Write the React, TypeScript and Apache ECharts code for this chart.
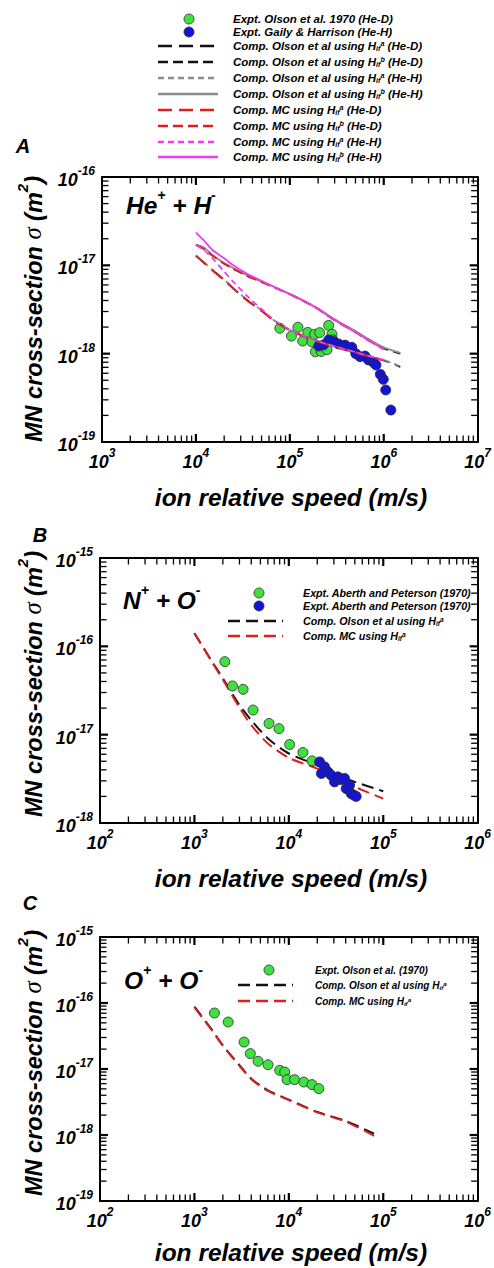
import React, { useEffect, useRef } from "react";
import * as echarts from "echarts";

const FONT = "'Liberation Sans', Arial, Helvetica, sans-serif";
const GREEN = "#3fe03f";
const BLUE = "#1414d6";
const RED = "#dd1f1f";
const BLACK = "#111111";
const GRAY = "#8c8c8c";
const MAGENTA = "#ee3cee";

// ---------- Panel A: He+ + H- ----------
const aSpeedOlson = [1e4, 1.25e4, 1.5e4, 2e4, 2.5e4, 3.5e4, 5e4, 7e4, 1e5, 1.5e5, 2e5, 3e5, 5e5, 7e5, 1e6, 1.5e6];
const aSpeedMC = [1e4, 1.25e4, 1.5e4, 2e4, 2.5e4, 3.5e4, 5e4, 7e4, 1e5, 1.5e5, 2e5, 3e5, 5e5, 7e5, 1e6];
const aOlsonA_HeD = [1.29e-17, 1.05e-17, 8.85e-18, 6.83e-18, 5.49e-18, 4.05e-18, 3.06e-18, 2.3e-18, 1.85e-18, 1.53e-18, 1.37e-18, 1.2e-18, 1.03e-18, 9.3e-19, 8.4e-19, 7.1e-19];
const aOlsonB_HeD = [1.7e-17, 1.55e-17, 1.3e-17, 1.05e-17, 9.2e-18, 7.6e-18, 6.5e-18, 5.6e-18, 4.7e-18, 3.8e-18, 3.2e-18, 2.4e-18, 1.75e-18, 1.4e-18, 1.15e-18, 1.0e-18];
const aOlsonA_HeH = [1.3e-17, 1.06e-17, 8.9e-18, 6.9e-18, 5.5e-18, 4.1e-18, 3.1e-18, 2.32e-18, 1.87e-18, 1.55e-18, 1.38e-18, 1.21e-18, 1.04e-18, 9.4e-19, 8.5e-19, 7.2e-19];
const aOlsonB_HeH = [1.72e-17, 1.56e-17, 1.31e-17, 1.06e-17, 9.3e-18, 7.7e-18, 6.55e-18, 5.65e-18, 4.75e-18, 3.85e-18, 3.25e-18, 2.45e-18, 1.8e-18, 1.45e-18, 1.18e-18, 1.02e-18];
const aMCA_HeD = [1.28e-17, 1.04e-17, 8.7e-18, 6.8e-18, 5.45e-18, 4.0e-18, 3.05e-18, 2.3e-18, 1.85e-18, 1.52e-18, 1.36e-18, 1.19e-18, 1.02e-18, 9.2e-19, 8.4e-19];
const aMCB_HeD = [1.7e-17, 1.5e-17, 1.28e-17, 1.04e-17, 9.1e-18, 7.6e-18, 6.5e-18, 5.55e-18, 4.7e-18, 3.8e-18, 3.2e-18, 2.4e-18, 1.75e-18, 1.4e-18, 1.12e-18];
const aMCA_HeH = [1.7e-17, 1.45e-17, 1.2e-17, 8.5e-18, 6.5e-18, 4.5e-18, 3.2e-18, 2.35e-18, 1.87e-18, 1.54e-18, 1.38e-18, 1.21e-18, 1.04e-18, 9.4e-19, 8.5e-19];
const aMCB_HeH = [2.34e-17, 1.85e-17, 1.49e-17, 1.2e-17, 1.0e-17, 8.0e-18, 6.7e-18, 5.6e-18, 4.7e-18, 3.8e-18, 3.2e-18, 2.4e-18, 1.75e-18, 1.4e-18, 1.12e-18];
const aOlsonExpSpeed = [7.83e4, 1.04e5, 1.22e5, 1.37e5, 1.55e5, 1.72e5, 1.84e5, 1.87e5, 2.08e5, 2.16e5, 2.49e5, 2.59e5, 2.81e5, 2.88e5];
const aOlsonExpSigma = [1.94e-18, 1.58e-18, 1.99e-18, 1.39e-18, 1.74e-18, 1.36e-18, 1.66e-18, 1.05e-18, 1.73e-18, 1.06e-18, 1.11e-18, 2.09e-18, 1.66e-18, 1.43e-18];
const aGailySpeed = [2.03e5, 2.29e5, 2.59e5, 2.92e5, 3.3e5, 3.88e5, 4.57e5, 5.04e5, 5.6e5, 6.32e5, 6.86e5, 7.75e5, 8.27e5, 9.19e5, 9.89e5, 1.05e6, 1.19e6];
const aGailySigma = [1.22e-18, 1.26e-18, 1.43e-18, 1.37e-18, 1.29e-18, 1.25e-18, 1.18e-18, 1.0e-18, 9.25e-19, 9.4e-19, 8.5e-19, 7.98e-19, 7.44e-19, 5.84e-19, 5.12e-19, 3.88e-19, 2.3e-19];

// ---------- Panel B: N+ + O- ----------
const bSpeed = [1e3, 1.5e3, 2e3, 3e3, 4e3, 6e3, 1e4, 2e4, 3e4, 5e4, 1e5];
const bOlson = [1.41e-16, 7.0e-17, 4.35e-17, 2.16e-17, 1.46e-17, 9.06e-18, 6.12e-18, 4.51e-18, 3.63e-18, 2.92e-18, 2.29e-18];
const bMC = [1.41e-16, 6.9e-17, 4.2e-17, 2.02e-17, 1.28e-17, 7.95e-18, 5.46e-18, 4.13e-18, 3.33e-18, 2.56e-18, 1.89e-18];
const bExpGreenSpeed = [2.1e3, 2.53e3, 3.28e3, 4.18e3, 6.17e3, 7.87e3, 1.02e4, 1.41e4, 1.76e4];
const bExpGreenSigma = [6.71e-17, 3.56e-17, 3.26e-17, 1.9e-17, 1.34e-17, 1.17e-17, 7.74e-18, 6.28e-18, 5.05e-18];
const bExpBlueSpeed = [2.12e4, 2.21e4, 2.39e4, 2.6e4, 2.81e4, 3.05e4, 3.31e4, 3.59e4, 3.89e4, 4.05e4, 4.4e4, 4.58e4, 4.89e4, 5.17e4];
const bExpBlueSigma = [4.92e-18, 3.63e-18, 4.32e-18, 3.79e-18, 3.47e-18, 2.92e-18, 3.33e-18, 3.1e-18, 3.2e-18, 2.45e-18, 2.67e-18, 2.15e-18, 2.06e-18, 2.0e-18];

// ---------- Panel C: O+ + O- ----------
const cSpeed = [1e3, 1.5e3, 2e3, 3e3, 4e3, 6e3, 1e4, 2e4, 4e4, 8e4];
const cOlson = [8.8e-17, 4.08e-17, 2.28e-17, 1.14e-17, 7.14e-18, 4.75e-18, 3.43e-18, 2.23e-18, 1.63e-18, 1.05e-18];
const cMC = [8.6e-17, 4.0e-17, 2.25e-17, 1.12e-17, 7.0e-18, 4.65e-18, 3.38e-18, 2.2e-18, 1.6e-18, 9.7e-19];
const cExpSpeed = [1.63e3, 2.28e3, 3.36e3, 3.91e3, 4.72e3, 6.03e3, 8.0e3, 9.04e3, 9.57e3, 1.15e4, 1.44e4, 1.76e4, 2.08e4];
const cExpSigma = [7.05e-17, 5.15e-17, 2.56e-17, 1.71e-17, 1.31e-17, 1.16e-17, 9.55e-18, 9.0e-18, 6.9e-18, 6.9e-18, 6.35e-18, 5.8e-18, 5.04e-18];

// axis decades (exponents)
const aX = [3, 7], aY = [-19, -16];
const bX = [2, 6], bY = [-18, -15];
const cX = [2, 6], cY = [-19, -15];

const p10 = (e: number) => Number(`1e${e}`);
const pairs = (xs: number[], ys: number[]) => xs.map((x, i) => [x, ys[i]]);

const txt = (size: number, extra: any = {}) => ({
  fontFamily: FONT,
  fontWeight: "bold",
  fontStyle: "italic",
  fontSize: size,
  fill: "#000",
  ...extra,
});

function supRich(base: number, sup: number, lh: number) {
  return {
    sup: { fontFamily: FONT, fontWeight: "bold", fontStyle: "italic", fontSize: sup, lineHeight: Math.round(sup * 1.1), verticalAlign: "top", fill: "#000", color: "#000" },
    sub: { fontFamily: FONT, fontWeight: "bold", fontStyle: "italic", fontSize: sup, lineHeight: Math.round(sup * 1.1), verticalAlign: "bottom", fill: "#000", color: "#000" },
    base: { fontFamily: FONT, fontWeight: "bold", fontStyle: "italic", fontSize: base, lineHeight: lh, verticalAlign: "bottom", fill: "#000", color: "#000" },
    sig: { fontFamily: "'Liberation Serif', 'DejaVu Serif', serif", fontWeight: "normal", fontStyle: "italic", fontSize: base * 1.05, lineHeight: lh, verticalAlign: "bottom", fill: "#000", color: "#000" },
  };
}

const tickRich = {
  b: { fontFamily: FONT, fontWeight: "bold", fontStyle: "italic", fontSize: 18, lineHeight: 24, verticalAlign: "bottom", color: "#000" },
  s: { fontFamily: FONT, fontWeight: "bold", fontStyle: "italic", fontSize: 12, lineHeight: 13, verticalAlign: "top", color: "#000" },
};
const tickFmt = (v: number) => `{b|10}{s|${Math.round(Math.log10(v))}}`;

function axis(kind: "x" | "y", grid: number, ext: number[], pos: string, labels: boolean) {
  return {
    type: "log",
    gridIndex: grid,
    min: p10(ext[0]),
    max: p10(ext[1]),
    position: pos,
    axisLine: { show: true, lineStyle: { color: "#000", width: 2 } },
    axisTick: { show: false },
    axisLabel: labels
      ? { show: true, margin: kind === "x" ? 5 : 7, formatter: tickFmt, rich: tickRich, showMinLabel: true, showMaxLabel: true }
      : { show: false },
    splitLine: { show: false },
    minorSplitLine: { show: false },
  };
}

// tick values of a log axis
function majorVals(ext: number[]) {
  const out: number[] = [];
  for (let e = ext[0] + 1; e < ext[1]; e++) out.push(p10(e));
  return out;
}
function minorVals(ext: number[]) {
  const out: number[] = [];
  for (let e = ext[0]; e < ext[1]; e++) for (let k = 2; k <= 9; k++) out.push(k * p10(e));
  return out;
}

// inward tick marks positioned through the chart's own scales (convertToPixel)
function tickElements(chart: any, idx: number, xe: number[], ye: number[]) {
  const finder = { xAxisIndex: idx * 2, yAxisIndex: idx * 2 };
  const px = (x: number, y: number) => chart.convertToPixel(finder, [x, y]) as number[];
  const lo = px(p10(xe[0]), p10(ye[0]));
  const hi = px(p10(xe[1]), p10(ye[1]));
  const left = lo[0], bottom = lo[1], right = hi[0], top = hi[1];
  const els: any[] = [];
  const add = (x1: number, y1: number, x2: number, y2: number, w: number) =>
    els.push({ type: "line", silent: true, z: 50, shape: { x1, y1, x2, y2 }, style: { stroke: "#000", lineWidth: w } });
  [[majorVals(xe), 8, 2.2], [minorVals(xe), 6.5, 1.3]].forEach(([vals, L, W]: any) => {
    vals.forEach((v: number) => {
      const x = px(v, p10(ye[0]))[0];
      add(x, bottom, x, bottom - L, W);
      add(x, top, x, top + L, W);
    });
  });
  [[majorVals(ye), 8, 2.2], [minorVals(ye), 6.5, 1.3]].forEach(([vals, L, W]: any) => {
    vals.forEach((v: number) => {
      const y = px(p10(xe[0]), v)[1];
      add(left, y, left + L, y, W);
      add(right, y, right - L, y, W);
    });
  });
  return els;
}

function lineS(name: string, xs: number[], ys: number[], color: string, dash: any, idx: number, width = 1.8, z = 3) {
  return {
    name,
    type: "line",
    xAxisIndex: idx * 2,
    yAxisIndex: idx * 2,
    data: pairs(xs, ys),
    showSymbol: false,
    symbol: "none",
    smooth: 0.25,
    z,
    lineStyle: { color, width, type: dash },
  };
}

function dotS(name: string, xs: number[], ys: number[], color: string, idx: number, z = 2) {
  return {
    name,
    type: "scatter",
    xAxisIndex: idx * 2,
    yAxisIndex: idx * 2,
    data: pairs(xs, ys),
    symbol: "circle",
    symbolSize: 10,
    z,
    itemStyle: { color, borderColor: "#2a2a2a", borderWidth: 0.8, opacity: 1 },
  };
}

const D3 = [14, 7];
const D4 = [10, 5];
const D6 = [6, 4];

function legendRow(y: number, x0: number, x1: number, xm: number, xt: number, size: number, text: string, mark: any) {
  const els: any[] = [];
  if (mark.circle) {
    els.push({ type: "circle", shape: { cx: xm, cy: y, r: 5 }, style: { fill: mark.circle, stroke: "#2a2a2a", lineWidth: 0.8 } });
  } else {
    els.push({ type: "line", shape: { x1: x0, y1: y, x2: x1, y2: y }, style: { stroke: mark.color, lineWidth: 2.6, lineDash: mark.dash || null } });
  }
  els.push({
    type: "text",
    style: { ...txt(size), text, x: xt, y, verticalAlign: "middle", align: "left", rich: supRich(size, size * 0.62, size + 4) },
  });
  return els;
}

const EXTS = [[aX, aY], [bX, bY], [cX, cY]];

function buildGraphic() {
  const g: any[] = [];
  const rowsA = [
    [19, "Expt. Olson et al. 1970 (He-D)", { circle: GREEN }],
    [32, "Expt. Gaily & Harrison (He-H)", { circle: BLUE }],
    [46, "Comp. Olson et al using H{sub|if}{sup|a} (He-D)", { color: BLACK, dash: D3 }],
    [62, "Comp. Olson et al using H{sub|if}{sup|b} (He-D)", { color: BLACK, dash: D4 }],
    [78, "Comp. Olson et al using H{sub|if}{sup|a} (He-H)", { color: GRAY, dash: D6 }],
    [94, "Comp. Olson et al using H{sub|if}{sup|b} (He-H)", { color: GRAY }],
    [110, "Comp. MC using H{sub|if}{sup|a} (He-D)", { color: RED, dash: D3 }],
    [126, "Comp. MC using H{sub|if}{sup|b} (He-D)", { color: RED, dash: D4 }],
    [142, "Comp. MC using H{sub|if}{sup|a} (He-H)", { color: MAGENTA, dash: D6 }],
    [157, "Comp. MC using H{sub|if}{sup|b} (He-H)", { color: MAGENTA }],
  ];
  rowsA.forEach((r: any) => g.push(...legendRow(r[0], 158, 218, 189, 233, 11.5, r[1], r[2])));

  const rowsB = [
    [593, "Expt. Aberth and Peterson (1970)", { circle: GREEN }],
    [606, "Expt. Aberth and Peterson (1970)", { circle: BLUE }],
    [621, "Comp. Olson et al using H{sub|if}{sup|a}", { color: BLACK, dash: [12, 6] }],
    [636, "Comp. MC using H{sub|if}{sup|a}", { color: RED, dash: [12, 6] }],
  ];
  rowsB.forEach((r: any) => g.push(...legendRow(r[0], 228, 283, 259, 303, 10.7, r[1], r[2])));

  const rowsC = [
    [970, "Expt. Olson et al. (1970)", { circle: GREEN }],
    [985, "Comp. Olson et al using H{sub|if}{sup|a}", { color: BLACK, dash: [12, 6] }],
    [1001, "Comp. MC using H{sub|if}{sup|a}", { color: RED, dash: [12, 6] }],
  ];
  rowsC.forEach((r: any) => g.push(...legendRow(r[0], 238, 293, 269, 315, 10, r[1], r[2])));

  g.push({ type: "text", style: { ...txt(20), text: "A", x: 23, y: 146, align: "center", verticalAlign: "middle" } });
  g.push({ type: "text", style: { ...txt(20), text: "B", x: 40, y: 535, align: "center", verticalAlign: "middle" } });
  g.push({ type: "text", style: { ...txt(20), text: "C", x: 30, y: 903, align: "center", verticalAlign: "middle" } });

  const reac = (x: number, y: number, t: string) => ({
    type: "text",
    style: { ...txt(24.5), text: t, x, y, align: "left", verticalAlign: "middle", rich: supRich(24.5, 14, 30) },
  });
  g.push(reac(126, 203, "{base|He}{sup|+}{base| + H}{sup|-}"));
  g.push(reac(123, 598, "{base|N}{sup|+}{base| + O}{sup|-}"));
  g.push(reac(124, 978, "{base|O}{sup|+}{base| + O}{sup|-}"));

  const yTitle = (cy: number) => ({
    type: "text",
    x: 30,
    y: cy,
    rotation: Math.PI / 2,
    style: { ...txt(23.5), text: "{base|MN cross-section }{sig|σ}{base| (m}{sup|2}{base|)}", x: 0, y: 0, align: "center", verticalAlign: "middle", rich: supRich(23.5, 15, 30) },
  });
  const xTitle = (cy: number) => ({
    type: "text",
    style: { ...txt(24.5), text: "ion relative speed (m/s)", x: 291, y: cy, align: "center", verticalAlign: "middle" },
  });
  g.push(yTitle(309), yTitle(684), yTitle(1063));
  g.push(xTitle(497), xTitle(878), xTitle(1252));
  return g;
}

function buildOption() {
  const grids = [
    { left: 102, top: 177, width: 378, height: 265 },
    { left: 100, top: 558, width: 378, height: 265 },
    { left: 100, top: 937, width: 378, height: 264 },
  ];
  const xAxis: any[] = [];
  const yAxis: any[] = [];
  EXTS.forEach(([xe, ye], i) => {
    xAxis.push(axis("x", i, xe, "bottom", true), axis("x", i, xe, "top", false));
    yAxis.push(axis("y", i, ye, "left", true), axis("y", i, ye, "right", false));
  });

  const series: any[] = [
    dotS("Expt. Olson et al. 1970 (He-D)", aOlsonExpSpeed, aOlsonExpSigma, GREEN, 0, 2),
    dotS("Expt. Gaily & Harrison (He-H)", aGailySpeed, aGailySigma, BLUE, 0, 2),
    lineS("Comp. Olson a (He-D)", aSpeedOlson, aOlsonA_HeD, BLACK, D3, 0),
    lineS("Comp. Olson b (He-D)", aSpeedOlson, aOlsonB_HeD, BLACK, D4, 0),
    lineS("Comp. Olson a (He-H)", aSpeedOlson, aOlsonA_HeH, GRAY, D6, 0),
    lineS("Comp. Olson b (He-H)", aSpeedOlson, aOlsonB_HeH, GRAY, "solid", 0),
    lineS("Comp. MC a (He-D)", aSpeedMC, aMCA_HeD, RED, D3, 0),
    lineS("Comp. MC b (He-D)", aSpeedMC, aMCB_HeD, RED, D4, 0),
    lineS("Comp. MC a (He-H)", aSpeedMC, aMCA_HeH, MAGENTA, D6, 0),
    lineS("Comp. MC b (He-H)", aSpeedMC, aMCB_HeH, MAGENTA, "solid", 0),
    lineS("B Olson", bSpeed, bOlson, BLACK, [12, 6], 1, 2, 2),
    lineS("B MC", bSpeed, bMC, RED, [12, 6], 1, 2, 2),
    dotS("B green", bExpGreenSpeed, bExpGreenSigma, GREEN, 1, 3),
    dotS("B blue", bExpBlueSpeed, bExpBlueSigma, BLUE, 1, 3),
    lineS("C Olson", cSpeed, cOlson, BLACK, [12, 6], 2, 2, 2),
    lineS("C MC", cSpeed, cMC, RED, [12, 6], 2, 2, 2),
    dotS("C green", cExpSpeed, cExpSigma, GREEN, 2, 3),
  ];

  return {
    animation: false,
    grid: grids,
    xAxis,
    yAxis,
    series,
    graphic: buildGraphic(),
  };
}

export default function App() {
  const ref = useRef<HTMLDivElement>(null);
  useEffect(() => {
    const chart = echarts.init(ref.current as HTMLDivElement, null, { renderer: "svg" });
    chart.setOption(buildOption() as any);
    try {
      const tickEls: any[] = [];
      EXTS.forEach(([xe, ye], i) => tickEls.push(...tickElements(chart, i, xe, ye)));
      chart.setOption({ graphic: [...buildGraphic(), ...tickEls] } as any);
    } catch (e) {
      // keep the chart without extra ticks if conversion fails
    }
    return () => chart.dispose();
  }, []);
  return (
    <div
      ref={ref}
      style={{ position: "absolute", left: 0, top: 0, width: 494, height: 1268, background: "#fff" }}
    />
  );
}
